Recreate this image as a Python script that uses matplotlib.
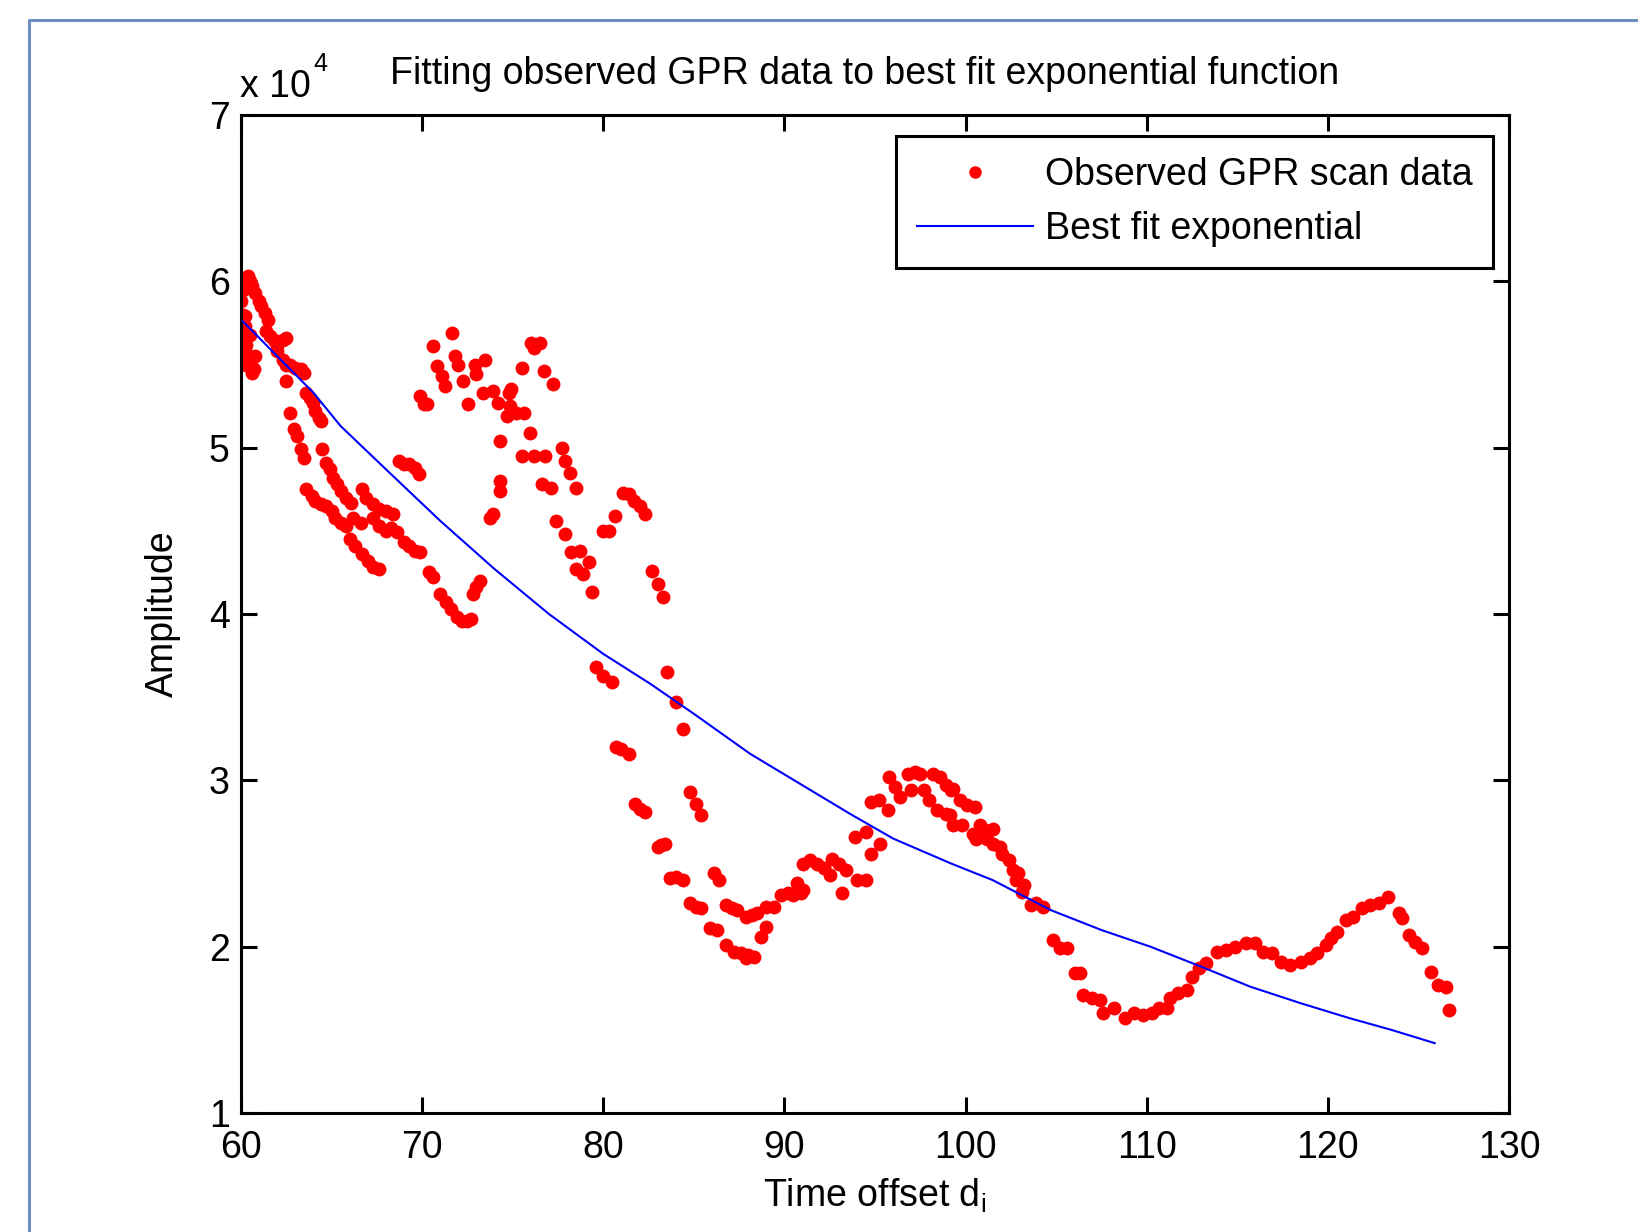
import numpy as np
import matplotlib
matplotlib.use("Agg")
import matplotlib.pyplot as plt
from matplotlib.lines import Line2D

plt.rcParams['font.family'] = ['Liberation Sans', 'DejaVu Sans']

# Observed GPR scan data (time offset, amplitude in units of 1e4)
obs_x = [
    60.0, 60.1, 60.2, 60.3, 60.4, 60.5, 60.6, 60.0, 60.1, 60.2, 60.0, 60.1, 60.3, 60.0, 60.2, 60.4,
    60.1, 60.5, 60.7, 60.6, 60.3, 60.8, 60.2, 60.5,
    60.8, 61.0, 61.1, 61.3, 61.5, 61.4, 61.6, 61.8, 62.0, 62.3, 62.5, 62.0, 62.3, 62.5, 62.7, 63.0,
    63.3, 63.5, 62.5, 63.6, 63.8, 64.0, 64.1, 64.3, 64.4,
    62.7, 62.9, 63.1, 63.3, 63.5, 64.45, 64.7, 64.9, 65.1, 65.3, 65.5, 65.8, 66.1,
    63.6, 63.9, 64.1, 64.4, 64.7, 65.0, 65.2, 65.5, 65.8,
    66.7, 66.9, 67.3, 67.6, 68.0, 68.4, 66.2, 66.6,
    67.3, 67.6, 68.0, 68.3, 68.6,
    66.0, 66.3, 66.7, 67.0, 67.3, 67.6,
    69.0, 69.3, 69.6, 69.9,
    70.4, 70.6, 71.0, 71.3, 71.6, 71.9, 72.2, 72.5, 72.7,
    72.8, 73.0, 73.2, 73.75, 73.9, 74.3, 74.3, 74.3, 74.67, 74.85,
    68.7, 69.0, 69.3, 69.6, 69.8,
    69.9, 70.1, 70.25, 70.6, 70.8, 71.08, 71.26, 71.63, 71.82, 72.0, 72.28, 72.55, 72.92, 73.0,
    73.38, 73.47, 73.93, 74.2, 74.8, 74.9, 75.2, 75.6, 75.5, 76.0, 76.2, 76.5, 76.7, 77.25,
    75.96, 75.5, 76.2, 76.8, 77.7, 77.9, 78.17, 78.5, 76.6, 77.1,
    77.4, 77.9, 78.2, 78.7, 79.2, 78.5, 78.9, 79.36,
    80.0, 80.3, 80.65, 81.1, 81.4, 81.7, 82.0, 82.3,
    82.7, 83.0, 83.3,
    79.6, 80.0, 80.5, 83.5, 84.0, 84.4, 80.7, 81.0, 81.4, 84.8, 85.1, 85.4, 81.75, 82.0, 82.3,
    83.0, 83.2, 83.4, 83.7, 84.0, 84.4, 86.1, 86.4, 84.8, 85.1, 85.4, 86.8, 87.1, 87.4, 87.9,
    88.2, 88.5, 89.0, 89.4, 85.9, 86.3, 89.0, 88.7, 86.8, 87.2, 87.6, 88.0, 88.3, 87.9,
    89.8, 90.2, 90.5, 90.9, 90.7, 91.0, 91.0, 91.4, 91.8, 92.2, 92.5, 93.2, 92.6, 93.0, 93.4,
    94.0, 94.5, 93.9, 94.5, 94.8, 95.3, 94.8, 95.2, 95.7, 95.8, 96.1, 96.4, 96.8, 97.2, 97.5,
    97.0, 97.7, 98.2, 98.6, 98.9, 99.2, 98.0, 98.4, 98.9,
    99.3, 99.7, 100.1, 100.5, 99.15, 99.3, 99.8, 100.4, 100.8, 101.1, 101.5, 100.6, 101.2, 101.5,
    101.9, 102.0, 102.4, 102.6, 102.9, 102.8, 103.2, 103.1, 103.6, 103.9, 104.3, 104.8, 105.2,
    105.6, 106.05, 106.3, 106.5, 107.0, 107.4, 107.6, 108.2, 108.8, 109.3, 109.8, 110.3, 110.7,
    111.1, 111.3, 111.7, 112.2, 112.5, 112.9, 113.3, 113.9, 114.4, 114.9, 115.5, 116.0, 116.4,
    116.9, 117.4, 117.9, 118.5, 119.0, 119.4, 119.9, 120.2, 120.5, 121.0, 121.4, 121.9, 122.3,
    122.8, 123.3, 123.9, 124.1, 124.5, 124.8, 125.2, 125.7, 126.1, 126.5, 126.7,
]
obs_y = [
    6.00, 5.95, 6.02, 5.97, 6.03, 6.00, 5.97, 5.88, 5.80, 5.79, 5.70, 5.66, 5.62, 5.60, 5.58, 5.55,
    5.52, 5.50, 5.47, 5.45, 5.50, 5.55, 5.73, 5.68,
    5.93, 5.88, 5.85, 5.81, 5.77, 5.70, 5.67, 5.65, 5.62, 5.65, 5.66, 5.58, 5.53, 5.50, 5.50, 5.48,
    5.47, 5.45, 5.40, 5.33, 5.30, 5.27, 5.22, 5.18, 5.16,
    5.21, 5.11, 5.07, 4.99, 4.94, 4.99, 4.91, 4.87, 4.82, 4.78, 4.74, 4.70, 4.67,
    4.75, 4.71, 4.68, 4.66, 4.65, 4.62, 4.58, 4.55, 4.53,
    4.75, 4.70, 4.66, 4.63, 4.62, 4.60, 4.58, 4.55,
    4.58, 4.53, 4.50, 4.52, 4.49,
    4.45, 4.41, 4.36, 4.32, 4.28, 4.27,
    4.43, 4.41, 4.38, 4.37,
    4.25, 4.22, 4.12, 4.07, 4.03, 3.98, 3.96, 3.96, 3.97,
    4.12, 4.16, 4.20, 4.58, 4.60, 4.74, 4.80, 5.04, 5.19, 5.25,
    4.92, 4.90, 4.90, 4.88, 4.84,
    5.31, 5.26, 5.26, 5.61, 5.49, 5.43, 5.37, 5.69, 5.55, 5.50, 5.40, 5.26, 5.50, 5.44,
    5.33, 5.53, 5.34, 5.27, 5.33, 5.35, 5.21, 5.21, 5.48, 5.63, 5.60, 5.63, 5.46, 5.38,
    5.09, 4.95, 4.95, 4.95, 5.00, 4.92, 4.85, 4.76, 4.78, 4.76,
    4.56, 4.48, 4.37, 4.38, 4.31, 4.27, 4.24, 4.13,
    4.50, 4.50, 4.59, 4.73, 4.72, 4.68, 4.65, 4.60,
    4.26, 4.18, 4.10,
    3.68, 3.63, 3.59, 3.65, 3.47, 3.31, 3.20, 3.19, 3.16, 2.93, 2.86, 2.79, 2.86, 2.83, 2.81,
    2.60, 2.61, 2.62, 2.41, 2.42, 2.40, 2.44, 2.40, 2.26, 2.24, 2.23, 2.25, 2.23, 2.22, 2.18,
    2.19, 2.20, 2.24, 2.24, 2.11, 2.10, 2.12, 2.06, 2.01, 1.97, 1.96, 1.95, 1.94, 1.93,
    2.31, 2.32, 2.31, 2.32, 2.38, 2.34, 2.50, 2.52, 2.50, 2.47, 2.43, 2.32, 2.53, 2.50, 2.46,
    2.40, 2.40, 2.66, 2.69, 2.56, 2.62, 2.87, 2.88, 2.82, 3.02, 2.96, 2.90, 3.04, 3.05, 3.04,
    2.94, 2.94, 3.04, 3.02, 2.97, 2.94, 2.88, 2.82, 2.80,
    2.95, 2.88, 2.85, 2.84, 2.79, 2.73, 2.73, 2.68, 2.73, 2.70, 2.71, 2.65, 2.65, 2.62,
    2.60, 2.56, 2.52, 2.46, 2.44, 2.40, 2.37, 2.33, 2.25, 2.26, 2.24, 2.04, 1.99,
    1.99, 1.84, 1.84, 1.71, 1.69, 1.68, 1.60, 1.63, 1.57, 1.60, 1.59, 1.60, 1.63,
    1.63, 1.69, 1.72, 1.74, 1.82, 1.87, 1.90, 1.97, 1.98, 2.00, 2.02, 2.02, 1.97,
    1.96, 1.91, 1.89, 1.91, 1.93, 1.96, 2.01, 2.05, 2.09, 2.16, 2.18, 2.23, 2.25,
    2.26, 2.30, 2.20, 2.17, 2.07, 2.03, 1.99, 1.85, 1.77, 1.76, 1.62,
]

# Best fit exponential
fit_x = [60.1, 62.0, 64.0, 65.5, 68.0, 71.0, 74.0, 77.0, 80.0, 82.6, 85.0, 88.1, 91.0,
         93.6, 96.0, 99.2, 101.5, 104.7, 107.5, 110.2, 113.0, 115.7, 118.5, 121.2, 123.5, 125.9]
fit_y = [5.76, 5.55, 5.33, 5.13, 4.87, 4.56, 4.27, 4.00, 3.76, 3.58, 3.40, 3.16, 2.97,
         2.80, 2.65, 2.50, 2.40, 2.22, 2.10, 2.00, 1.88, 1.76, 1.66, 1.57, 1.50, 1.42]

xticks = [60, 70, 80, 90, 100, 110, 120, 130]
yticks = [1, 2, 3, 4, 5, 6, 7]

W, H = 1638, 1232
fig = plt.figure(figsize=(W / 100, H / 100), dpi=100)

# window frame of the screenshot
fig.add_artist(Line2D([29 / W, 29 / W, 1.0], [0.0, 1 - 20 / H, 1 - 20 / H],
                      color='#6a8fc0', lw=2.2, transform=fig.transFigure))

ax = fig.add_axes([241 / W, 1 - 1113 / H, (1509 - 241) / W, (1113 - 115) / H])

ax.plot(obs_x, obs_y, linestyle='none', marker='o', ms=10, mew=0,
        color='#ff0000', label='Observed GPR scan data', zorder=2)
ax.plot(fit_x, fit_y, color='#0000ff', lw=1.5, label='Best fit exponential', zorder=3)

ax.set_xlim(60, 130)
ax.set_ylim(1, 7)
ax.set_xticks(xticks)
ax.set_yticks(yticks)
ax.tick_params(direction='in', length=11.5, width=2.2, top=True, right=True,
               labelsize=27, pad=8, colors='black')
ax.tick_params(axis='x', pad=12)
for s in ax.spines.values():
    s.set_linewidth(2.2)

ax.set_xlabel(r'Time offset d$_\mathregular{i}$', fontsize=27)
ax.xaxis.set_label_coords(0.5, -0.064)
ax.set_ylabel('Amplitude', fontsize=27)
ax.yaxis.set_label_coords(-0.047, 0.5)

fig.text(865 / W, 1 - 84 / H, 'Fitting observed GPR data to best fit exponential function',
         ha='center', va='baseline', fontsize=27)
fig.text(240 / W, 1 - 97 / H, 'x 10', ha='left', va='baseline', fontsize=27)
fig.text(313 / W, 1 - 71 / H, '4', ha='left', va='baseline', fontsize=18)

leg = ax.legend(loc='upper right', bbox_to_anchor=(1493 / W, 1 - 136 / H),
                bbox_transform=fig.transFigure, fontsize=27, fancybox=False,
                framealpha=1, edgecolor='black', borderpad=0.55, labelspacing=0.5,
                handlelength=3.1, handletextpad=0.32, borderaxespad=0, markerscale=0.9)
leg.get_frame().set_linewidth(2.2)

fig.savefig('out.png', dpi=100)
